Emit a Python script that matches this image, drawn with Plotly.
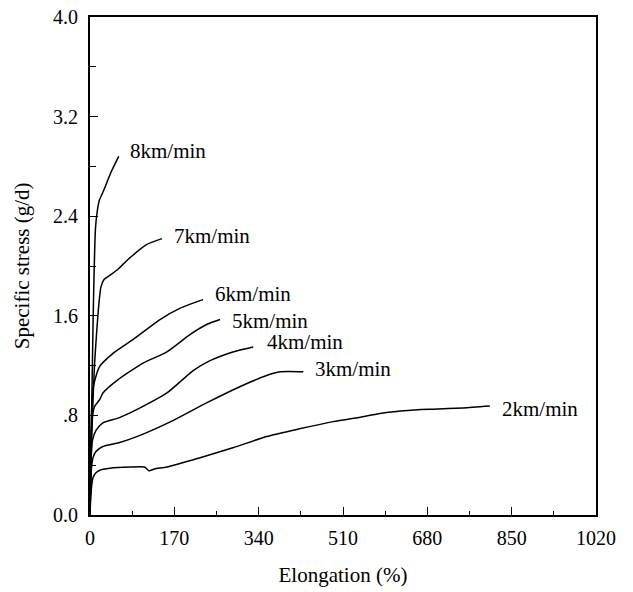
import plotly.graph_objects as go

# Stress-strain curves for fibres spun at different take-up speeds
speeds = ["8km/min", "7km/min", "6km/min", "5km/min", "4km/min", "3km/min", "2km/min"]

elong_8 = [0, 2, 4, 6, 8, 11, 15, 19, 28, 42, 58]
stress_8 = [0, 0.5, 1.0, 1.5, 1.9, 2.3, 2.45, 2.53, 2.61, 2.75, 2.88]

elong_7 = [0, 2, 5, 9, 14, 18, 22, 28, 42, 58, 76, 113, 145]
stress_7 = [0, 0.4, 0.8, 1.2, 1.5, 1.7, 1.83, 1.89, 1.93, 1.98, 2.05, 2.17, 2.22]

elong_6 = [0, 1, 3, 5, 9, 19, 47, 87, 141, 181, 228]
stress_6 = [0, 0.4, 0.8, 0.98, 1.07, 1.19, 1.30, 1.41, 1.57, 1.66, 1.73]

elong_5 = [0, 1, 3, 6, 9, 20, 26, 54, 107, 155, 202, 235, 262]
stress_5 = [0, 0.35, 0.7, 0.82, 0.87, 0.93, 0.98, 1.08, 1.22, 1.31, 1.45, 1.53, 1.57]

elong_4 = [0, 1, 3, 5, 12, 26, 58, 101, 155, 208, 242, 288, 329]
stress_4 = [0, 0.3, 0.52, 0.60, 0.68, 0.74, 0.78, 0.86, 0.98, 1.16, 1.24, 1.31, 1.35]

elong_3 = [0, 1, 3, 6, 12, 26, 58, 107, 168, 235, 302, 356, 383, 430]
stress_3 = [0, 0.2, 0.38, 0.46, 0.51, 0.55, 0.58, 0.65, 0.76, 0.90, 1.03, 1.12, 1.15, 1.15]

elong_2 = [0, 1, 3, 6, 12, 20, 40, 80, 110, 119, 130, 155, 222, 288, 356,
           420, 490, 550, 591, 640, 692, 752, 806]
stress_2 = [0, 0.1, 0.22, 0.30, 0.34, 0.36, 0.375, 0.385, 0.385, 0.355, 0.37, 0.385,
            0.46, 0.54, 0.63, 0.69, 0.75, 0.79, 0.82, 0.84, 0.85, 0.86, 0.875]

# Where each speed label sits (left edge, vertical centre)
label_x = [77, 165, 248, 282, 353, 450, 827]
label_y = [2.92, 2.24, 1.775, 1.56, 1.39, 1.17, 0.85]

x_ticks = [0, 170, 340, 510, 680, 850, 1020]
y_ticks = [0.0, 0.8, 1.6, 2.4, 3.2, 4.0]
y_tick_text = ["0.0", ".8", "1.6", "2.4", "3.2", "4.0"]

curves = [
    (elong_8, stress_8), (elong_7, stress_7), (elong_6, stress_6),
    (elong_5, stress_5), (elong_4, stress_4), (elong_3, stress_3),
    (elong_2, stress_2),
]

serif = "Liberation Serif"

fig = go.Figure()
for name, (xs, ys) in zip(speeds, curves):
    fig.add_trace(go.Scatter(
        x=xs, y=ys, mode="lines", name=name,
        line=dict(color="black", width=1.5, shape="spline", smoothing=0.6),
        showlegend=False, hoverinfo="skip",
    ))

for name, lx, ly in zip(speeds, label_x, label_y):
    fig.add_annotation(
        x=lx, y=ly, text=name, showarrow=False,
        xanchor="left", yanchor="middle",
        font=dict(family=serif, size=21, color="black"),
    )

# Vertical axis title, placed in paper coordinates left of the tick labels
fig.add_annotation(
    xref="paper", yref="paper", x=-0.134, y=0.5,
    text="Specific stress (g/d)", textangle=-90, showarrow=False,
    xanchor="center", yanchor="middle",
    font=dict(family=serif, size=21, color="black"),
)

axis_common = dict(
    showgrid=False, zeroline=False, automargin=False,
    showline=True, linecolor="black", linewidth=2, mirror=True,
    ticks="inside", tickcolor="black", tickwidth=1.2, ticklen=8,
    tickfont=dict(family=serif, size=20, color="black"),
)

fig.update_xaxes(
    range=[0, 1020], tickvals=x_ticks,
    ticklabelstandoff=4,
    title=dict(text="Elongation (%)", font=dict(family=serif, size=21, color="black"),
               standoff=19),
    minor=dict(dtick=85, ticks="inside", ticklen=4, tickcolor="black", tickwidth=1),
    **axis_common,
)
fig.update_yaxes(
    range=[0, 4.0], tickvals=y_ticks, ticktext=y_tick_text,
    ticklabelstandoff=6,
    minor=dict(dtick=0.4, ticks="inside", ticklen=6, tickcolor="black", tickwidth=1),
    **axis_common,
)

fig.update_layout(
    width=633, height=592,
    margin=dict(l=90, r=37, t=17, b=77),
    plot_bgcolor="white", paper_bgcolor="white",
    font=dict(family=serif, color="black"),
)

fig.write_html("out.html")
